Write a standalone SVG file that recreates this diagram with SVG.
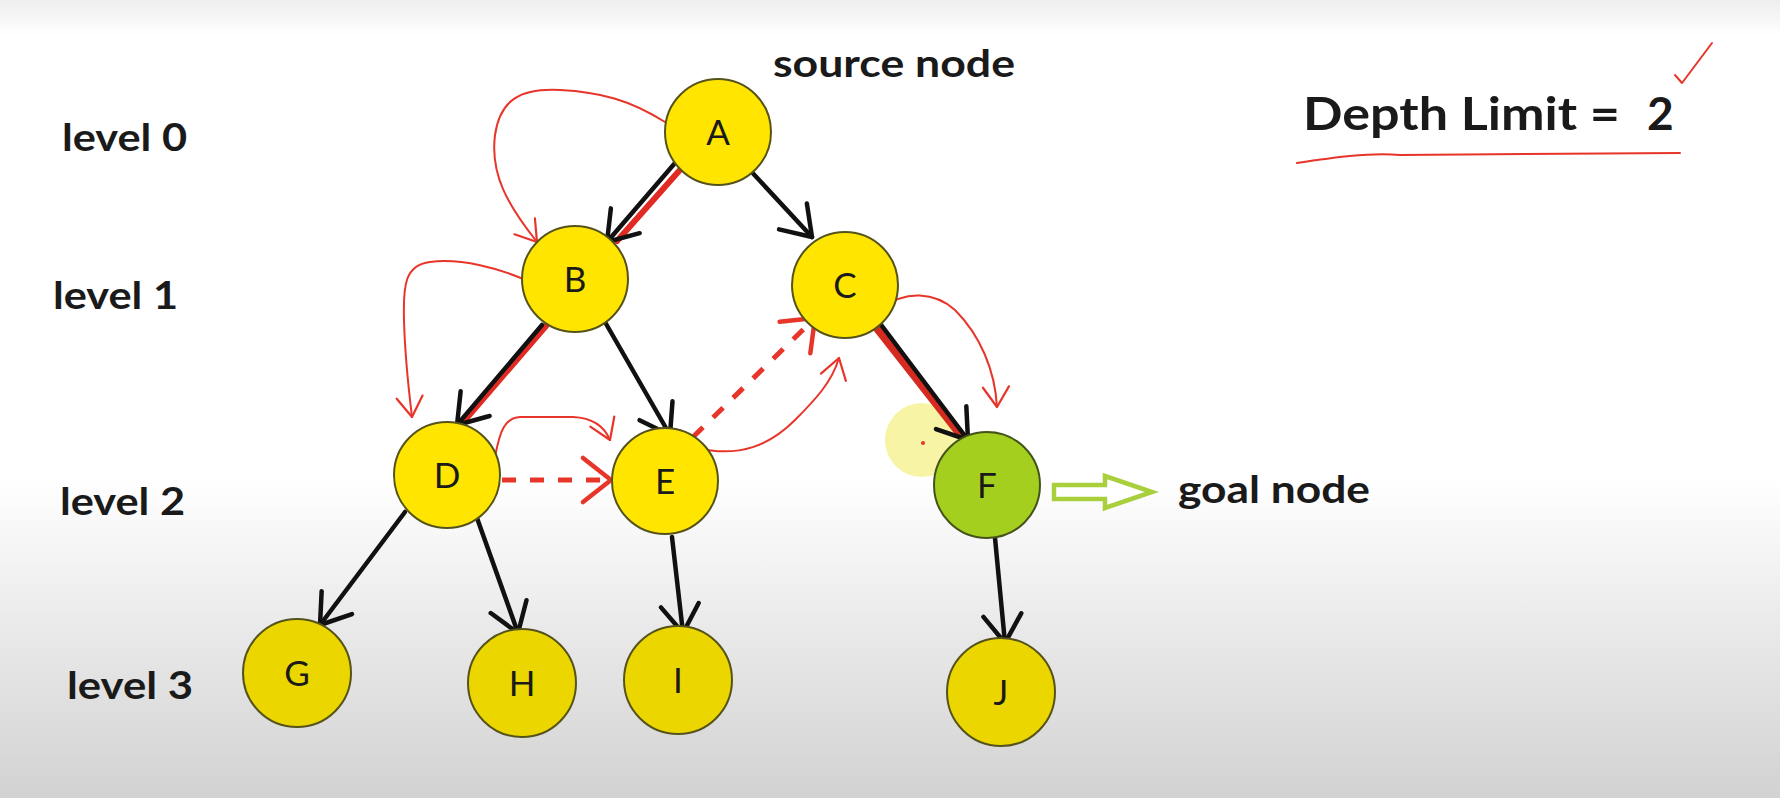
<svg xmlns="http://www.w3.org/2000/svg" width="1780" height="798" viewBox="0 0 1780 798">
<defs>
<linearGradient id="bg" x1="0" y1="0" x2="0" y2="798" gradientUnits="userSpaceOnUse">
<stop offset="0" stop-color="#eeeeee"/>
<stop offset="0.045" stop-color="#ffffff"/>
<stop offset="0.6" stop-color="#ffffff"/>
<stop offset="0.8" stop-color="#e8e8e8"/>
<stop offset="1" stop-color="#d2d2d2"/>
</linearGradient>
<marker id="ah" viewBox="-40 -30 50 60" markerUnits="userSpaceOnUse" markerWidth="50" markerHeight="60" refX="0" refY="0" orient="auto">
<path d="M-28,-19 L0,0 L-28,19" fill="none" stroke="#111" stroke-width="4.5" stroke-linecap="round" stroke-linejoin="round"/>
</marker>
<marker id="rh" viewBox="-30 -20 40 40" markerUnits="userSpaceOnUse" markerWidth="40" markerHeight="40" refX="0" refY="0" orient="auto">
<path d="M-20,-13 L0,0 L-20,13" fill="none" stroke="#e8352a" stroke-width="2.2" stroke-linecap="round" stroke-linejoin="round"/>
</marker>
<marker id="rhb" viewBox="-40 -30 50 60" markerUnits="userSpaceOnUse" markerWidth="50" markerHeight="60" refX="0" refY="0" orient="auto">
<path d="M-28,-22 L0,0 L-28,22" fill="none" stroke="#e8352a" stroke-width="4.5" stroke-linecap="round" stroke-linejoin="round"/>
</marker>
</defs>
<style>
.lbl{font-family:Lato,"Liberation Sans",sans-serif;font-weight:700;fill:#1a1a1a;font-size:38px}
.nl{font-family:Lato,"Liberation Sans",sans-serif;font-size:35px;fill:#1a1a1a;text-anchor:middle}
.nd{fill:#ffe500;stroke:#55531a;stroke-width:2}
.nd2{fill:#ecd600;stroke:#55531a;stroke-width:2}
.goal{fill:#a5cf1f;stroke:#44531a;stroke-width:2}
.edge{fill:none;stroke:#111;stroke-width:4.5;stroke-linecap:round;marker-end:url(#ah)}
.red{fill:none;stroke:#e8352a;stroke-width:2;stroke-linecap:round;stroke-linejoin:round}
.redthick{fill:none;stroke:#e02a22;stroke-width:6;stroke-linecap:round}
.dash{fill:none;stroke:#e8352a;stroke-width:5;stroke-dasharray:14 14;marker-end:url(#rhb)}
</style>
<rect x="0" y="0" width="1780" height="798" fill="url(#bg)"/>

<g id="labels">
<text class="lbl" x="62" y="151" textLength="125" lengthAdjust="spacingAndGlyphs">level 0</text>
<text class="lbl" x="53" y="309" textLength="125" lengthAdjust="spacingAndGlyphs">level 1</text>
<text class="lbl" x="60" y="515" textLength="125" lengthAdjust="spacingAndGlyphs">level 2</text>
<text class="lbl" x="67" y="699" textLength="126" lengthAdjust="spacingAndGlyphs">level 3</text>
<text class="lbl" x="773" y="77" textLength="242" lengthAdjust="spacingAndGlyphs">source node</text>
<text class="lbl" x="1178" y="503" textLength="192" lengthAdjust="spacingAndGlyphs">goal node</text>
<text class="lbl" style="font-size:46px" x="1303" y="130"><tspan textLength="317" lengthAdjust="spacingAndGlyphs">Depth Limit =</tspan><tspan x="1647">2</tspan></text>
</g>

<g id="highlight">
<circle cx="922" cy="440" r="37" fill="#f5ef80" opacity="0.7"/>
<circle cx="923" cy="443" r="2" fill="#e8352a"/>
</g>

<g id="connectors">
<line class="redthick" x1="679" y1="171" x2="617" y2="241"/>
<line class="redthick" x1="546" y1="326" x2="465" y2="420"/>
<line x1="875" y1="325" x2="962" y2="436" stroke="#d42a20" stroke-width="9" stroke-linecap="round"/>
<line class="edge" x1="675" y1="163" x2="607" y2="242"/>
<line class="edge" x1="748" y1="168" x2="812" y2="237"/>
<line class="edge" x1="542" y1="325" x2="457" y2="425"/>
<line class="edge" x1="605" y1="322" x2="670" y2="435"/>
<line class="edge" x1="879" y1="322" x2="968" y2="440"/>
<line class="edge" x1="405" y1="512" x2="320" y2="625"/>
<line class="edge" x1="477" y1="518" x2="518" y2="633"/>
<line class="edge" x1="672" y1="537" x2="683" y2="633"/>
<line class="edge" x1="995" y1="538" x2="1005" y2="643"/>
<path id="goal-arrow" d="M1054,485 L1105,485 L1105,476 L1152,492 L1105,508 L1105,499 L1054,499 Z" fill="#ffffff" stroke="#a9cf3c" stroke-width="4.5" stroke-linejoin="miter"/>
</g>

<g id="annotations">
<path class="red" marker-end="url(#rh)" d="M665,122 C630,100 600,92 560,90 C520,88 500,100 495,135 C490,175 508,205 537,242"/>
<path class="red" marker-end="url(#rh)" d="M530,282 C500,268 460,258 430,262 C405,265 403,285 404,320 C405,360 409,392 412,417"/>
<path class="red" marker-end="url(#rh)" d="M495,457 C500,430 505,418 520,417 L573,417 C595,418 605,428 610,440"/>
<path class="dash" d="M502,480 L611,480"/>
<path class="dash" d="M693,437 L815,318"/>
<path class="red" marker-end="url(#rh)" d="M697,448 C740,458 770,445 795,420 C815,400 832,382 839,358"/>
<path class="red" marker-end="url(#rh)" d="M883,308 C905,290 935,292 955,310 C980,335 995,370 997,407"/>
<path class="red" d="M1297,163 C1330,158 1370,152 1400,155 L1680,153"/>
<path class="red" d="M1675,75 L1682,83 L1712,43"/>
</g>

<g id="node-A"><circle class="nd" cx="718" cy="132" r="53"/><text class="nl" x="718" y="145">A</text></g>
<g id="node-B"><circle class="nd" cx="575" cy="279" r="53"/><text class="nl" x="575" y="292">B</text></g>
<g id="node-C"><circle class="nd" cx="845" cy="285" r="53"/><text class="nl" x="845" y="298">C</text></g>
<g id="node-D"><circle class="nd" cx="447" cy="475" r="53"/><text class="nl" x="447" y="488">D</text></g>
<g id="node-E"><circle class="nd" cx="665" cy="481" r="53"/><text class="nl" x="665" y="494">E</text></g>
<g id="node-F"><circle class="goal" cx="987" cy="485" r="53"/><text class="nl" x="987" y="498">F</text></g>
<g id="node-G"><circle class="nd2" cx="297" cy="673" r="54"/><text class="nl" x="297" y="686">G</text></g>
<g id="node-H"><circle class="nd2" cx="522" cy="683" r="54"/><text class="nl" x="522" y="696">H</text></g>
<g id="node-I"><circle class="nd2" cx="678" cy="680" r="54"/><text class="nl" x="678" y="693">I</text></g>
<g id="node-J"><circle class="nd2" cx="1001" cy="692" r="54"/><text class="nl" x="1001" y="705">J</text></g>
</svg>
